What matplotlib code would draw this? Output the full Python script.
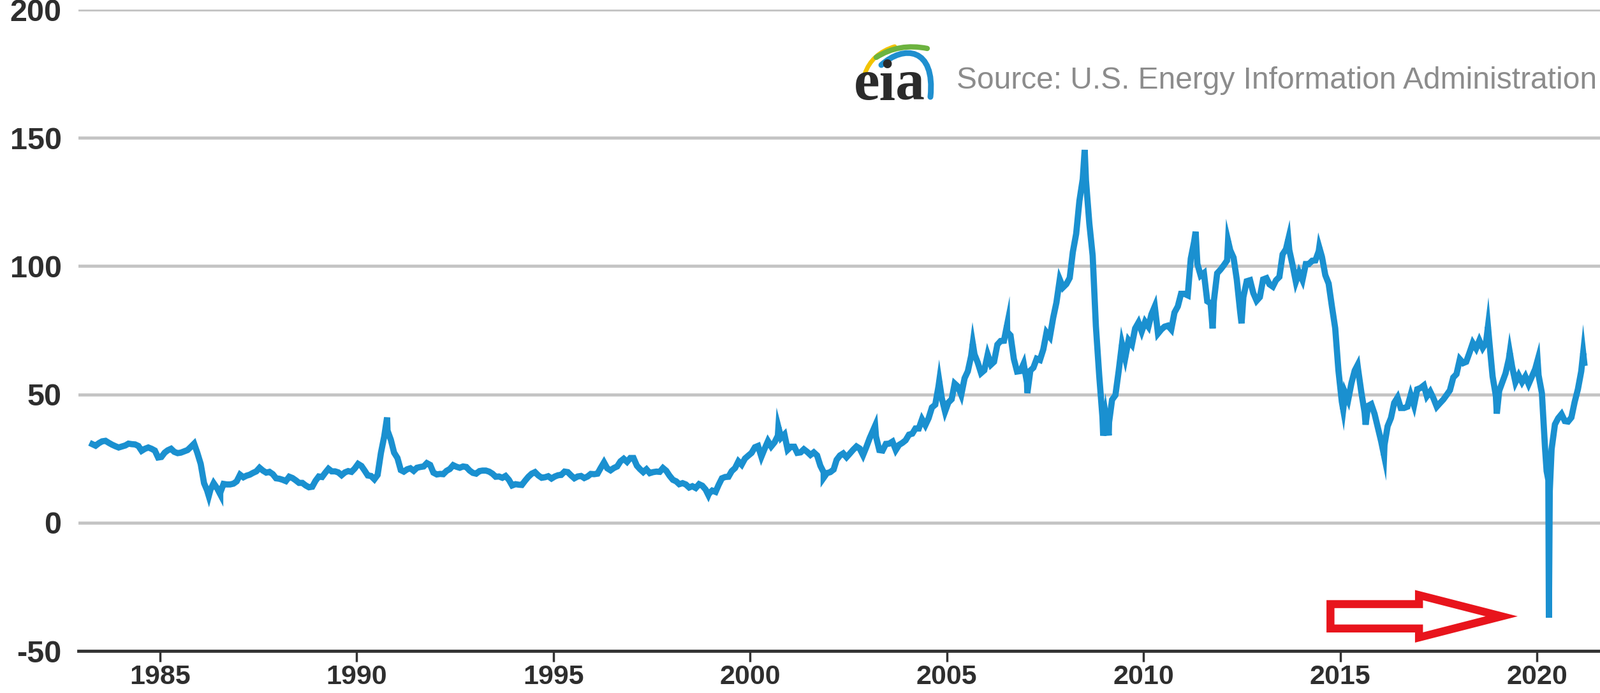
import numpy as np
import pandas as pd
import matplotlib
matplotlib.use("Agg")
from matplotlib import pyplot as plt
from matplotlib.patches import FancyArrow, PathPatch
from matplotlib.path import Path

# WTI crude oil price, $/barrel, monthly, April 1983 .. March 2021
start_month = "1983-04"
wti_monthly = [
    30.6, 30.0, 31.0, 31.7, 31.9, 31.1, 30.4, 29.8, 29.3,                      # 1983
    29.7, 30.1, 30.8, 30.6, 30.5, 29.9, 28.0, 28.8, 29.3, 28.8, 28.1, 25.4,    # 1984
    25.6, 27.3, 28.2, 28.8, 27.6, 27.1, 27.3, 27.8, 28.3, 29.5, 30.8, 27.2,    # 1985
    22.9, 15.4, 12.6, 12.8, 15.4, 13.5, 11.6, 15.1, 14.9, 14.9, 15.2, 16.1,    # 1986
    18.7, 17.7, 18.3, 18.7, 19.4, 20.0, 21.4, 20.3, 19.5, 19.8, 18.9, 17.3,    # 1987
    17.1, 16.7, 16.2, 17.9, 17.4, 16.5, 15.5, 15.5, 14.5, 13.8, 14.0, 16.3,    # 1988
    18.0, 17.8, 19.4, 21.0, 20.0, 20.0, 19.6, 18.5, 19.6, 20.1, 19.8, 21.1,    # 1989
    22.9, 22.1, 20.4, 18.4, 18.2, 16.9, 18.6, 27.2, 33.7, 35.9, 32.3, 27.3,    # 1990
    25.2, 20.5, 19.9, 20.8, 21.2, 20.2, 21.4, 21.7, 21.9, 23.2, 22.5, 19.5,    # 1991
    18.8, 19.0, 18.9, 20.2, 20.9, 22.4, 21.8, 21.4, 21.9, 21.7, 20.3, 19.4,    # 1992
    19.1, 20.1, 20.3, 20.3, 19.9, 19.1, 17.9, 18.0, 17.5, 18.2, 16.7, 14.5,    # 1993
    15.0, 14.8, 14.7, 16.4, 17.9, 19.1, 19.7, 18.4, 17.5, 17.7, 18.1, 17.2,    # 1994
    18.0, 18.5, 18.6, 19.9, 19.7, 18.4, 17.3, 18.0, 18.2, 17.4, 18.0, 19.0,    # 1995
    18.9, 19.1, 21.3, 23.5, 21.2, 20.4, 21.3, 21.9, 23.9, 24.9, 23.7, 25.2,    # 1996
    25.2, 22.2, 20.9, 19.7, 20.8, 19.3, 19.7, 19.9, 19.8, 21.3, 20.2, 18.3,    # 1997
    16.7, 16.1, 15.0, 15.4, 14.9, 13.7, 14.2, 13.5, 15.0, 14.4, 12.9, 11.3,    # 1998
    12.5, 12.0, 14.7, 17.3, 17.8, 17.9, 20.1, 21.3, 23.9, 22.6, 25.0, 26.1,    # 1999
    27.2, 29.4, 29.9, 25.7, 28.8, 31.8, 29.7, 31.3, 33.9, 33.1, 34.4, 28.4,    # 2000
    29.6, 29.6, 27.2, 27.4, 28.6, 27.6, 26.4, 27.4, 26.2, 22.2, 19.6, 19.3,    # 2001
    19.7, 20.7, 24.5, 26.2, 27.0, 25.5, 26.9, 28.4, 29.7, 28.9, 26.3, 29.4,    # 2002
    32.9, 35.9, 33.6, 28.3, 28.1, 30.7, 30.8, 31.6, 28.3, 30.3, 31.1, 32.1,    # 2003
    34.3, 34.7, 36.7, 36.7, 40.3, 38.0, 40.7, 44.9, 46.0, 53.1, 48.5, 43.3,    # 2004
    46.8, 48.1, 54.2, 53.0, 49.8, 56.3, 59.0, 65.0, 65.6, 62.4, 58.3, 59.4,    # 2005
    65.5, 61.6, 62.7, 69.4, 70.8, 70.9, 74.4, 73.0, 63.8, 58.9, 59.1, 62.0,    # 2006
    54.5, 59.3, 60.4, 63.9, 63.4, 67.5, 74.1, 72.4, 79.9, 85.8, 94.8, 91.7,    # 2007
    93.0, 95.4, 105.5, 112.6, 125.4, 133.9, 133.4, 116.7, 104.1, 76.6, 57.3, 41.1,  # 2008
    41.7, 39.1, 47.9, 49.7, 59.0, 69.6, 64.2, 71.1, 69.4, 75.7, 78.0, 74.5,    # 2009
    78.3, 76.4, 81.2, 84.3, 73.7, 75.3, 76.4, 76.8, 75.3, 81.9, 84.3, 89.2,    # 2010
    89.2, 88.6, 102.9, 109.5, 100.9, 96.3, 97.3, 86.3, 85.5, 86.3, 97.2, 98.6,  # 2011
    100.3, 102.2, 106.2, 103.3, 94.7, 82.3, 87.9, 94.1, 94.5, 89.5, 86.5, 87.9,  # 2012
    94.8, 95.3, 92.9, 92.0, 94.5, 95.8, 104.6, 106.6, 106.3, 100.5, 93.9, 97.6,  # 2013
    94.6, 100.8, 100.8, 102.1, 102.2, 105.8, 103.6, 96.5, 93.2, 84.4, 75.8, 59.3,  # 2014
    47.2, 50.6, 47.8, 54.5, 59.3, 59.8, 50.9, 42.9, 45.5, 46.2, 42.4, 37.2,    # 2015
    31.7, 30.3, 37.6, 40.8, 46.7, 48.8, 44.7, 44.7, 45.2, 49.8, 45.7, 52.0,    # 2016
    52.5, 53.5, 49.3, 51.1, 48.5, 45.2, 46.6, 48.0, 49.8, 51.6, 56.6, 57.9,    # 2017
    63.7, 62.2, 62.7, 66.3, 70.0, 67.9, 71.0, 68.1, 70.2, 70.8, 57.0, 49.5,    # 2018
    51.4, 55.0, 58.2, 63.9, 60.8, 54.7, 57.4, 54.8, 57.0, 54.0, 57.0, 59.9,    # 2019
    57.5, 50.5, 29.2, 16.6, 28.6, 38.3, 40.7, 42.3, 39.6, 39.4, 41.0, 47.0,    # 2020
    52.0, 59.0, 62.3,                                                          # 2021
]

# daily highs and lows the monthly series smooths away
spike_dates = [
    "1986-03-31", "1986-07-15", "1990-10-11", "1998-12-10", "2000-09-20",
    "2001-11-15", "2003-03-07", "2004-10-22", "2005-08-30", "2006-07-14",
    "2007-01-18", "2008-07-03", "2008-12-22", "2009-02-12", "2011-04-29",
    "2011-10-04", "2012-02-24", "2012-06-28", "2013-09-06", "2014-06-20",
    "2015-01-28", "2015-06-10", "2015-08-24", "2016-02-11", "2018-10-03",
    "2018-12-24", "2019-04-23", "2020-01-06", "2020-03-30", "2020-04-20",
    "2020-04-28", "2021-03-05",
]
spike_values = [
    10.4, 11.1, 41.0, 10.8, 37.2,
    17.5, 37.8, 55.2, 69.8, 77.0,
    50.5, 145.3, 33.9, 34.0, 113.4,
    75.7, 109.8, 77.7, 110.5, 107.3,
    44.1, 61.4, 38.2, 26.2, 76.4,
    42.5, 66.3, 63.3, 20.1, -37.0,
    12.3, 66.1,
]

year_ticks = [1985, 1990, 1995, 2000, 2005, 2010, 2015, 2020]
y_ticks = [-50, 0, 50, 100, 150, 200]
source_text = "Source: U.S. Energy Information Administration"


def decimal_year(ts):
    ts = pd.DatetimeIndex(ts)
    return ts.year + (ts.dayofyear - 1) / 365.25


months = pd.date_range(start_month, periods=len(wti_monthly), freq="MS") + pd.Timedelta(days=14)
df = pd.DataFrame({"x": decimal_year(months), "price": wti_monthly})
spikes = pd.DataFrame({"x": decimal_year(pd.to_datetime(spike_dates)), "price": spike_values})
df = pd.concat([df, spikes]).sort_values("x")

plt.rcParams["font.family"] = ["Liberation Sans", "DejaVu Sans"]
plt.rcParams["axes.unicode_minus"] = False

fig = plt.figure(figsize=(25.09, 10.87), dpi=100)
ax = fig.add_axes([0.049, 0.0607, 0.951, 0.9255])

ax.plot(df["x"], df["price"], color="#1a90d0", lw=7, solid_joinstyle="miter", zorder=3)

ax.set_xlim(1982.93, 2021.6)
ax.set_ylim(-50, 200)
ax.set_yticks(y_ticks)
ax.set_xticks(year_ticks)
ax.set_xticklabels([str(y) for y in year_ticks])
for s in ["top", "left", "right"]:
    ax.spines[s].set_visible(False)
ax.spines["bottom"].set_color("#333333")
ax.spines["bottom"].set_linewidth(3.5)
ax.grid(axis="y", color="#c4c4c4", lw=3.5)
ax.set_axisbelow(True)
ax.tick_params(axis="y", length=0, pad=19, labelsize=35, labelcolor="#2e2e2e")
ax.tick_params(axis="x", length=12, width=2.5, color="#333333", pad=3,
               labelsize=31, labelcolor="#2e2e2e")
for lab in ax.get_xticklabels() + ax.get_yticklabels():
    lab.set_fontweight("bold")

# hollow red arrow pointing at the April 2020 dip
arrow = FancyArrow(2014.75, -36.5, 4.35, 0, width=9.5, head_width=16.5, head_length=2.1,
                   length_includes_head=True, fill=False, edgecolor="#e8141c",
                   lw=9, joinstyle="miter", zorder=4)
ax.add_patch(arrow)

# source line with eia logo
fig.text(0.998, 0.884, source_text, ha="right", va="center", fontsize=34.5, color="#8c8c8c")

lax = fig.add_axes([1335 / 2509, 1 - 166 / 1087, 140 / 2509, 100 / 1087])
lax.set_xlim(0, 140)
lax.set_ylim(0, 100)
lax.axis("off")
swooshes = [
    ([(21, 50), (32, 82), (68, 93)], "#f2c300", 5),
    ([(39, 76), (75, 99), (119, 90)], "#6cb33f", 6),
    ([(47, 64), (82, 96), (132, 92), (124, 14)], "#1f8fcf", 6.5),
]
for pts, col, w in swooshes:
    codes = [Path.MOVETO] + [Path.CURVE3 if len(pts) == 3 else Path.CURVE4] * (len(pts) - 1)
    lax.add_patch(PathPatch(Path(pts, codes), fill=False, edgecolor=col, lw=w, capstyle="round"))
lax.text(4, 10, "eia", fontsize=66, fontweight="bold", family="Liberation Serif",
         color="#2b2b2b", ha="left", va="baseline")

fig.savefig("out.png", dpi=100, facecolor="white")
